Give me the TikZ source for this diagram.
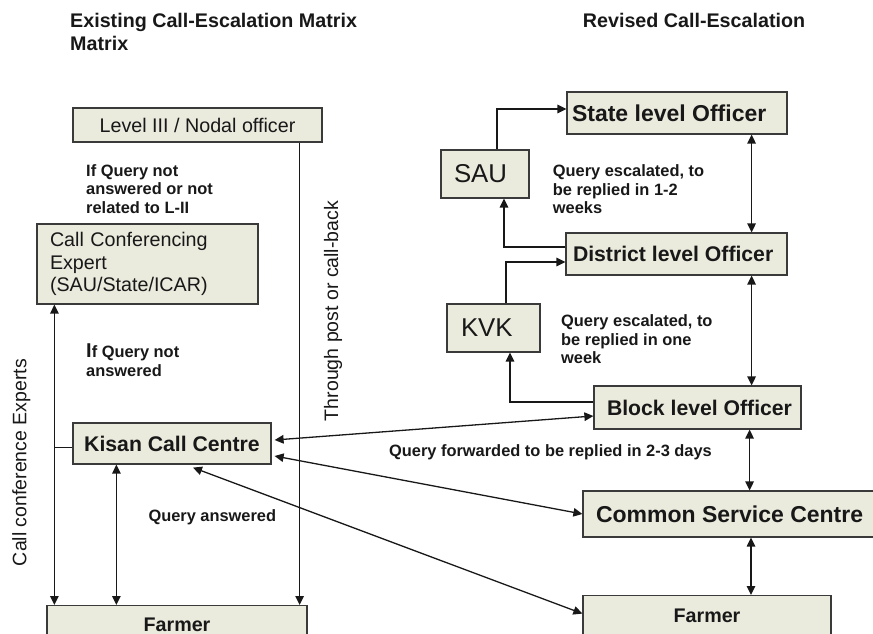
\documentclass[tikz,border=0pt]{standalone}
\usepackage{fontspec}
\setmainfont{Liberation Sans}
\usetikzlibrary{arrows.meta,calc}

\definecolor{boxfill}{RGB}{234,234,221}
\definecolor{boxline}{RGB}{58,58,58}
\definecolor{ink}{RGB}{24,24,24}

% fixed-width, flush-left box content (never wraps)
\newcommand\padtext[2]{\makebox[#1][l]{#2}}

\begin{document}
\begin{tikzpicture}[x=1pt,y=-1pt,
  box/.style={draw=boxline,fill=boxfill,line width=1.2pt,inner sep=0pt,text=ink},
  reg/.style={font=\fontsize{19.7}{22.5}\selectfont},
  regbig/.style={font=\fontsize{25.8}{30}\selectfont},
  bsm/.style={font=\fontsize{19.7}{23}\selectfont\bfseries},
  bmid/.style={font=\fontsize{21.2}{25}\selectfont\bfseries},
  bbig/.style={font=\fontsize{23}{27}\selectfont\bfseries},
  lbl/.style={font=\fontsize{16.4}{18.5}\selectfont\bfseries,align=left,inner sep=0pt,text=ink},
  ttl/.style={font=\fontsize{19.7}{22.7}\selectfont\bfseries,align=left,inner sep=0pt,text=ink},
  side/.style={font=\fontsize{19.5}{22}\selectfont,inner sep=0pt,text=ink,rotate=90,anchor=base},
  conn/.style={draw=ink,line width=1.3pt},
  head/.tip={Triangle[length=9pt,width=8.5pt]},
  tip/.style={conn,-head},
  bitip/.style={conn,head-head}
]
\useasboundingbox (0,0) rectangle (873,634);

% ---------- titles ----------
\node[ttl,anchor=west] (tleft) at (70,31.7) {Existing Call-Escalation Matrix\\Matrix};
\node[ttl,anchor=base west] (tright) at (582.7,27.3) {Revised Call-Escalation};

% ---------- existing matrix ----------
\node[box,reg,minimum width=249,minimum height=34,text height=14.4,text depth=0pt]
  (lvl3) at (197.5,125) {Level III / Nodal officer};
\node[box,reg,align=left,text width=195,inner xsep=13,minimum height=80]
  (cce) at (147.5,264) {Call Conferencing\\Expert\\(SAU/State/ICAR)};
\node[box,bmid,minimum width=198,minimum height=41] (kcc) at (172,443.5) {Kisan Call Centre};
\node[box,bsm,anchor=north,minimum width=260,text height=26,text depth=14]
  (farmerL) at (177,605) {Farmer};

\node[lbl,anchor=west] (qL3) at (86,188.8) {If Query not\\answered or not\\related to L-II};
\node[lbl,anchor=west] (qIf) at (86,360) {{\fontsize{20}{20}\selectfont I}f Query not\\answered};
\node[lbl,anchor=base west] (qAns) at (148.3,521.7) {Query answered};
\node[side] (sideCCE) at (26.5,462.5) {Call conference Experts};
\node[side] (sidePost) at (338,311) {Through post or call-back};

% ---------- revised escalation ----------
\node[box,bbig,minimum height=42,inner xsep=5] (state) at (677,113) {\padtext{210pt}{State level Officer}};
\node[box,regbig,minimum height=48,inner xsep=13] (sau) at (485,174) {\padtext{62pt}{SAU}};
\node[box,bmid,minimum height=42,inner xsep=7] (district) at (676.5,254) {\padtext{207pt}{District level Officer}};
\node[box,regbig,minimum height=48,inner xsep=14] (kvk) at (493.5,328) {\padtext{65pt}{KVK}};
\node[box,bmid,minimum height=43,inner xsep=13] (block) at (697.5,407.5) {\padtext{181pt}{Block level Officer}};
\node[box,bbig,minimum height=46,inner xsep=13] (csc) at (729.5,514) {\padtext{267pt}{Common Service Centre}};
\node[box,bsm,anchor=north,minimum width=248,text height=26.5,text depth=23.5]
  (farmerR) at (707,595) {Farmer};

\node[lbl,anchor=west] (qSAU) at (552.7,189.2) {Query escalated, to\\be replied in 1-2\\weeks};
\node[lbl,anchor=west] (qKVK) at (561,339.5) {Query escalated, to\\be replied in one\\week};
\node[lbl,anchor=base east] (qFwd) at (712,456) {Query forwarded to be replied in 2-3 days};

% ---------- connectors, existing matrix ----------
\coordinate (cceA) at ([xshift=18]cce.south west);
\draw[bitip] (cceA) -- (cceA |- farmerL.north);
\coordinate (kccW) at ([yshift=-4]kcc.west);
\draw[conn] (kccW) -- (kccW -| cceA);
\coordinate (postA) at ([xshift=-23]lvl3.south east);
\draw[tip] (postA) -- (postA |- farmerL.north);
\coordinate (kccA) at ([xshift=44]kcc.south west);
\draw[bitip] (kccA) -- (kccA |- farmerL.north);

% ---------- connectors, revised escalation ----------
\coordinate (stA) at ([xshift=-36]state.south east);
\draw[bitip] (stA) -- (stA |- district.north);
\coordinate (diA) at ([xshift=-36]district.south east);
\draw[bitip] (diA) -- (diA |- block.north);
\coordinate (blA) at ([xshift=-52]block.south east);
\draw[bitip] (blA) -- (blA |- csc.north);
\coordinate (csA) at ([xshift=21.5]csc.south);
\draw[bitip] (csA) -- (csA |- farmerR.north);

\draw[tip] ([xshift=12]sau.north) |- ([yshift=4]state.west);
\draw[tip] ([yshift=7]district.west) -| ([xshift=19]sau.south);
\draw[tip] ([xshift=12.5]kvk.north) |- ([yshift=-8]district.west);
\draw[tip] ([yshift=5.5]block.west) -| ([xshift=16.5]kvk.south);

% ---------- links between the two matrices ----------
\draw[bitip] ([xshift=3,yshift=3.5]kcc.east) -- ([yshift=-8.5]block.west);
\draw[bitip] ([xshift=3,yshift=-12.5]kcc.east) -- (csc.west);
\draw[bitip] ([xshift=21,yshift=-3]kcc.south) -- ([yshift=7]farmerR.west);
\end{tikzpicture}
\end{document}
